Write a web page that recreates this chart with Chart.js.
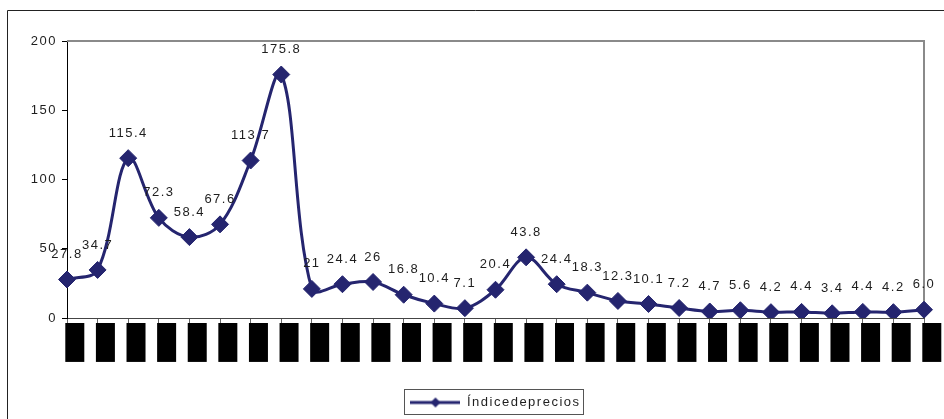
<!DOCTYPE html>
<html lang="es">
<head>
<meta charset="utf-8">
<title>Índice de precios</title>
<script src="https://cdn.jsdelivr.net/npm/chart.js@4.4.1/dist/chart.umd.min.js"></script>
<style>
  html, body { margin: 0; padding: 0; background: #fff; }
  #marco { position: relative; width: 944px; height: 419px; }
</style>
</head>
<body>
<div id="marco"><canvas id="grafico"></canvas></div>
<script>
// Categorías (años) del eje horizontal
const anios = ['1980', '1981', '1982', '1983', '1984', '1985', '1986', '1987', '1988', '1989',
               '1990', '1991', '1992', '1993', '1994', '1995', '1996', '1997', '1998', '1999',
               '2000', '2001', '2002', '2003', '2004', '2005', '2006', '2007', '2008'];

// Variación del índice de precios, tal como se rotula sobre cada punto
const indiceTexto = ['27.8', '34.7', '115.4', '72.3', '58.4', '67.6', '113.7', '175.8', '21', '24.4',
                     '26', '16.8', '10.4', '7.1', '20.4', '43.8', '24.4', '18.3', '12.3', '10.1',
                     '7.2', '4.7', '5.6', '4.2', '4.4', '3.4', '4.4', '4.2', '6.0'];
const indice = indiceTexto.map(Number);

// Marcas del eje vertical
const marcasY = [0, 50, 100, 150, 200];

const nombreSerie = 'Índicedeprecios';

const AZUL = '#25256f';
const TEXTO = '#1e1e1e';
const ESPACIADO = '1.5px';

Chart.defaults.font.family = "'Liberation Sans', Arial, sans-serif";
Chart.defaults.font.size = 13;
Chart.defaults.color = TEXTO;

// Icono de la leyenda: línea con rombo al centro
function iconoLeyenda() {
  const c = document.createElement('canvas');
  c.width = 50; c.height = 12;
  const g = c.getContext('2d');
  g.strokeStyle = AZUL; g.lineWidth = 3;
  g.beginPath(); g.moveTo(0, 6); g.lineTo(50, 6); g.stroke();
  g.fillStyle = AZUL;
  g.beginPath(); g.moveTo(25, 1); g.lineTo(30, 6); g.lineTo(25, 11); g.lineTo(20, 6); g.closePath(); g.fill();
  return c;
}

// Espaciado entre letras del texto del gráfico
const espaciado = {
  id: 'espaciado',
  beforeUpdate(chart) { chart.ctx.letterSpacing = ESPACIADO; },
  beforeDraw(chart) { chart.ctx.letterSpacing = ESPACIADO; }
};

// Marco exterior y borde del área de trazado
const marcos = {
  id: 'marcos',
  beforeDraw(chart) {
    const ctx = chart.ctx;
    ctx.save();
    ctx.strokeStyle = '#222';
    ctx.lineWidth = 1;
    ctx.beginPath();
    ctx.moveTo(7.5, chart.height);
    ctx.lineTo(7.5, 10.5);
    ctx.lineTo(chart.width, 10.5);
    ctx.stroke();
    ctx.restore();
  },
  beforeDatasetsDraw(chart) {
    const {ctx, chartArea: a} = chart;
    ctx.save();
    ctx.strokeStyle = '#8a8a8a';
    ctx.lineWidth = 2;
    ctx.beginPath();
    ctx.moveTo(a.left, a.top);
    ctx.lineTo(a.right, a.top);
    ctx.lineTo(a.right, a.bottom);
    ctx.stroke();
    ctx.restore();
  },
  afterDraw(chart) {
    const hb = chart.legend && chart.legend.legendHitBoxes[0];
    if (!hb) return;
    const ctx = chart.ctx;
    ctx.save();
    ctx.strokeStyle = '#555';
    ctx.lineWidth = 1;
    ctx.strokeRect(Math.round(hb.left) - 5.5, Math.round(hb.top) - 6.5,
                   Math.round(hb.width) + 9, Math.round(hb.height) + 12);
    ctx.restore();
  }
};

// Rótulos de valor sobre cada punto
const rotulos = {
  id: 'rotulos',
  afterDatasetsDraw(chart) {
    const ctx = chart.ctx;
    const meta = chart.getDatasetMeta(0);
    ctx.save();
    ctx.letterSpacing = ESPACIADO;
    ctx.font = "13px 'Liberation Sans', Arial, sans-serif";
    ctx.fillStyle = TEXTO;
    ctx.textAlign = 'center';
    ctx.textBaseline = 'middle';
    meta.data.forEach((pt, i) => {
      ctx.fillText(indiceTexto[i], pt.x, pt.y - 25);
    });
    ctx.restore();
  }
};

new Chart(document.getElementById('grafico'), {
  type: 'line',
  data: {
    labels: anios,
    datasets: [{
      label: nombreSerie,
      data: indice,
      borderColor: AZUL,
      backgroundColor: AZUL,
      borderWidth: 3,
      tension: 0.35,
      pointStyle: 'rectRot',
      pointRadius: 8.5,
      pointHoverRadius: 8.5,
      pointBorderWidth: 1,
      pointBackgroundColor: AZUL,
      pointBorderColor: AZUL,
      fill: false
    }]
  },
  options: {
    responsive: true,
    maintainAspectRatio: false,
    animation: false,
    events: [],
    layout: { padding: { top: 41, right: 20, left: 0, bottom: 0 } },
    scales: {
      x: {
        type: 'category',
        offset: false,
        afterFit(s) { s.height = 70; },
        grid: { drawOnChartArea: false, drawTicks: true, tickLength: 5, color: '#666' },
        border: { color: '#444', width: 1 },
        ticks: {
          autoSkip: false,
          minRotation: 90,
          maxRotation: 90,
          padding: 1,
          color: '#000',
          showLabelBackdrop: true,
          backdropColor: '#000',
          backdropPadding: { top: 1.7, bottom: 1.7, left: 3, right: 1 }
        }
      },
      y: {
        min: marcasY[0],
        max: marcasY[marcasY.length - 1],
        afterFit(s) { s.width = 67; },
        afterBuildTicks(s) { s.ticks = marcasY.map(v => ({ value: v })); },
        grid: { drawOnChartArea: false, drawTicks: true, tickLength: 5, color: '#000' },
        border: { color: '#000', width: 1 },
        ticks: { padding: 5, color: TEXTO }
      }
    },
    plugins: {
      legend: {
        position: 'bottom',
        fullSize: false,
        labels: {
          usePointStyle: true,
          pointStyle: iconoLeyenda(),
          pointStyleWidth: 50,
          padding: 8,
          color: TEXTO,
          font: { size: 13 }
        }
      },
      tooltip: { enabled: false }
    }
  },
  plugins: [espaciado, marcos, rotulos]
});
</script>
</body>
</html>
